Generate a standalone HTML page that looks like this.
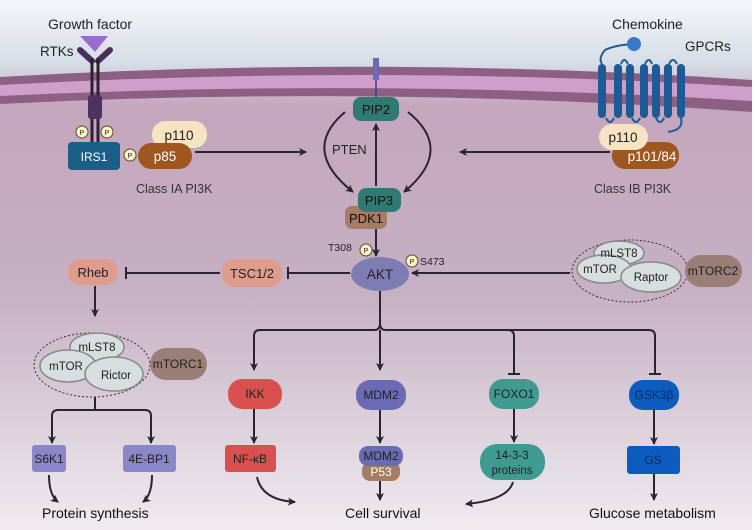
<!DOCTYPE html>
<html><head><meta charset="utf-8"><style>
html,body{margin:0;padding:0;background:#fff}
svg{display:block}
text{font-family:"Liberation Sans",sans-serif}
</style></head><body>
<svg width="755" height="530" viewBox="0 0 755 530" xmlns="http://www.w3.org/2000/svg">
<defs>
<linearGradient id="bg" x1="0" y1="0" x2="0" y2="1">
<stop offset="0" stop-color="#f4f6f9"/><stop offset="0.12" stop-color="#d5dde6"/>
<stop offset="0.2" stop-color="#c4a6bd"/><stop offset="0.55" stop-color="#c6b0c3"/>
<stop offset="1" stop-color="#efebef"/></linearGradient>
<marker id="ar" markerWidth="8" markerHeight="8" refX="7" refY="4" orient="auto" markerUnits="userSpaceOnUse"><path d="M0,0 L8,4 L0,8 L2,4z" fill="#2a2430"/></marker>
</defs>
<rect x="0" y="0" width="752" height="530" fill="url(#bg)"/>
<!-- membrane -->
<path d="M0,77 Q380,55 752,80 L752,112 Q380,85 0,104 Z" fill="#8e5f84"/>
<path d="M0,85 Q380,64 752,87 L752,101 Q380,78 0,96 Z" fill="#cf9fc9"/>
<g fill="none" stroke="#2a2430" stroke-width="2">
<!-- PI3K arrows -->
<line x1="195" y1="152" x2="306" y2="152" marker-end="url(#ar)"/>
<line x1="610" y1="152" x2="460" y2="152" marker-end="url(#ar)"/>
<line x1="376" y1="186" x2="376" y2="124" marker-end="url(#ar)"/>
<path d="M345,112 Q300,150 353,192" marker-end="url(#ar)"/>
<path d="M408,112 Q455,150 404,192" marker-end="url(#ar)"/>
<line x1="376" y1="229" x2="376" y2="256" marker-end="url(#ar)"/>
<line x1="570" y1="273" x2="412" y2="273" marker-end="url(#ar)"/>
<line x1="350" y1="273" x2="288" y2="273"/><line x1="288" y1="267" x2="288" y2="279"/>
<line x1="220" y1="273" x2="126" y2="273"/><line x1="126" y1="267" x2="126" y2="279"/>
<line x1="95" y1="286" x2="95" y2="316" marker-end="url(#ar)"/>
<path d="M95,397 V410 M52,443 V416 Q52,410 58,410 H145 Q151,410 151,416 V443" />
<line x1="52" y1="430" x2="52" y2="443" marker-end="url(#ar)"/>
<line x1="151" y1="430" x2="151" y2="443" marker-end="url(#ar)"/>
<path d="M49,475 Q49,495 58,502" marker-end="url(#ar)"/>
<path d="M152,475 Q152,495 143,502" marker-end="url(#ar)"/>
<!-- AKT tree -->
<path d="M380,291 V324 Q380,330 374,330 H260 Q254,330 254,336 V370" marker-end="url(#ar)"/>
<path d="M380,324 Q380,330 386,330 H649 Q655,330 655,336 V374"/>
<line x1="649" y1="374" x2="661" y2="374"/>
<line x1="380" y1="330" x2="380" y2="370" marker-end="url(#ar)"/>
<path d="M508,330 Q514,330 514,336 V374"/><line x1="508" y1="374" x2="520" y2="374"/>
<line x1="254" y1="409" x2="254" y2="443" marker-end="url(#ar)"/>
<line x1="380" y1="410" x2="380" y2="443" marker-end="url(#ar)"/>
<line x1="514" y1="409" x2="514" y2="442" marker-end="url(#ar)"/>
<line x1="654" y1="410" x2="654" y2="444" marker-end="url(#ar)"/>
<line x1="380" y1="481" x2="380" y2="500" marker-end="url(#ar)"/>
<line x1="654" y1="474" x2="654" y2="500" marker-end="url(#ar)"/>
<path d="M257,477 Q262,500 295,502" marker-end="url(#ar)"/>
<path d="M513,482 Q508,500 466,504" marker-end="url(#ar)"/>
</g>
<!-- RTK -->
<text x="48" y="29" font-size="14" fill="#222">Growth factor</text>
<text x="40" y="56" font-size="13.5" fill="#222">RTKs</text>
<path d="M80,36 L108,36 L95,52Z" fill="#9a6bd0"/>
<path d="M80,50 L92,61 M110,50 L98,61" stroke="#4a2f5c" stroke-width="6" stroke-linecap="round"/>
<line x1="92" y1="58" x2="92" y2="142" stroke="#2d1f35" stroke-width="3"/>
<line x1="98" y1="58" x2="98" y2="142" stroke="#2d1f35" stroke-width="3"/>
<rect x="88" y="95" width="14" height="24" rx="3" fill="#4e3360"/>
<rect x="68" y="142" width="52" height="28" rx="4" fill="#1b5e87"/>
<text x="94" y="161" font-size="12" fill="#fff" text-anchor="middle">IRS1</text>
<rect x="152" y="121" width="55" height="27" rx="13" fill="#f5e3c2"/>
<text x="179" y="140" font-size="13.5" fill="#222" text-anchor="middle">p110</text>
<rect x="138" y="143" width="54" height="26" rx="13" fill="#a0561f"/>
<text x="165" y="161" font-size="13.5" fill="#fff" text-anchor="middle">p85</text>
<text x="136" y="193" font-size="12.5" fill="#333">Class IA PI3K</text>
<!-- PIP -->
<line x1="376" y1="58" x2="376" y2="98" stroke="#3a3a90" stroke-width="1.5"/>
<rect x="373" y="58" width="6" height="22" fill="#6a6ab8"/>
<rect x="353" y="97" width="46" height="24" rx="8" fill="#2f7a72"/>
<text x="376" y="114" font-size="13" fill="#111" text-anchor="middle">PIP2</text>
<text x="332" y="154" font-size="13" fill="#222">PTEN</text>
<rect x="345" y="206" width="42" height="23" rx="7" fill="#a67c62"/>
<text x="366" y="223" font-size="13" fill="#111" text-anchor="middle">PDK1</text>
<rect x="358" y="188" width="43" height="24" rx="8" fill="#2f7a72"/>
<text x="379" y="205" font-size="13" fill="#111" text-anchor="middle">PIP3</text>
<text x="328" y="251" font-size="10.5" fill="#222">T308</text>
<text x="420" y="265" font-size="10.5" fill="#222">S473</text>
<ellipse cx="380" cy="274" rx="29" ry="17" fill="#7e7db3"/>
<text x="380" y="279" font-size="13.5" fill="#222" text-anchor="middle">AKT</text>
<!-- P circles -->
<g fill="#fbf3c8" stroke="#5a4a30" stroke-width="1">
<circle cx="82" cy="132" r="6"/><circle cx="107" cy="132" r="6"/><circle cx="130" cy="155" r="6"/>
<circle cx="366" cy="250" r="6"/><circle cx="412" cy="261" r="6"/></g>
<g font-size="7" fill="#222" text-anchor="middle">
<text x="82" y="135">P</text><text x="107" y="135">P</text><text x="130" y="158">P</text>
<text x="366" y="253">P</text><text x="412" y="264">P</text></g>
<!-- GPCR -->
<text x="612" y="29" font-size="14" fill="#222">Chemokine</text>
<text x="685" y="51" font-size="13.5" fill="#222">GPCRs</text>
<path d="M634,44 Q615,45 605,50 Q598,58 602,64 M606,118 Q610,126 614,118 M621,64 Q624,56 628,64 M632,118 Q636,126 640,118 M645,64 Q649,56 652,64 M656,118 Q660,126 664,118 M669,64 Q673,56 677,64 M681,118 Q684,130 668,132" fill="none" stroke="#1e5a95" stroke-width="2"/>
<g fill="#1e5a95">
<rect x="598" y="64" width="8" height="54" rx="4"/><rect x="614" y="64" width="8" height="54" rx="4"/>
<rect x="626" y="64" width="8" height="54" rx="4"/><rect x="640" y="64" width="8" height="54" rx="4"/>
<rect x="652" y="64" width="8" height="54" rx="4"/><rect x="664" y="64" width="8" height="54" rx="4"/>
<rect x="677" y="64" width="8" height="54" rx="4"/></g>
<circle cx="634" cy="44" r="7" fill="#3a78c8"/>
<rect x="612" y="142" width="67" height="27" rx="13" fill="#a0561f"/>
<text x="652" y="161" font-size="13.5" fill="#fff" text-anchor="middle">p101/84</text>
<rect x="599" y="124" width="49" height="26" rx="13" fill="#f5e3c2"/>
<text x="623" y="142" font-size="13.5" fill="#222" text-anchor="middle">p110</text>
<text x="594" y="193" font-size="12.5" fill="#333">Class IB PI3K</text>
<!-- mTORC2 -->
<ellipse cx="630" cy="271" rx="58" ry="31" fill="none" stroke="#333" stroke-width="1" stroke-dasharray="2,2"/>
<g fill="#d7dee0" stroke="#888" stroke-width="1.5">
<ellipse cx="619" cy="253" rx="25" ry="12"/><ellipse cx="604" cy="269" rx="27" ry="14"/><ellipse cx="651" cy="277" rx="30" ry="15"/></g>
<g font-size="11.5" fill="#222" text-anchor="middle">
<text x="619" y="257">mLST8</text><text x="600" y="273">mTOR</text><text x="651" y="281">Raptor</text></g>
<rect x="685" y="255" width="57" height="32" rx="16" fill="#9a7f77"/>
<text x="713" y="275" font-size="12" fill="#222" text-anchor="middle">mTORC2</text>
<!-- TSC, Rheb -->
<rect x="222" y="259" width="60" height="28" rx="13" fill="#df9c8c"/>
<text x="252" y="278" font-size="13" fill="#222" text-anchor="middle">TSC1/2</text>
<rect x="68" y="259" width="50" height="26" rx="12" fill="#df9c8c"/>
<text x="93" y="277" font-size="13" fill="#222" text-anchor="middle">Rheb</text>
<!-- mTORC1 -->
<ellipse cx="92" cy="365" rx="58" ry="32" fill="none" stroke="#333" stroke-width="1" stroke-dasharray="2,2"/>
<g fill="#d7dee0" stroke="#888" stroke-width="1.5">
<ellipse cx="97" cy="347" rx="27" ry="14"/><ellipse cx="68" cy="366" rx="28" ry="16"/><ellipse cx="114" cy="374" rx="29" ry="17"/></g>
<g font-size="11.5" fill="#222" text-anchor="middle">
<text x="97" y="351">mLST8</text><text x="66" y="370">mTOR</text><text x="116" y="379">Rictor</text></g>
<rect x="150" y="348" width="57" height="32" rx="16" fill="#9a7f77"/>
<text x="178" y="368" font-size="12" fill="#222" text-anchor="middle">mTORC1</text>
<rect x="32" y="445" width="34" height="27" rx="3" fill="#8a87c8"/>
<text x="49" y="463" font-size="12" fill="#222" text-anchor="middle">S6K1</text>
<rect x="123" y="445" width="53" height="27" rx="3" fill="#8a87c8"/>
<text x="149" y="463" font-size="12" fill="#222" text-anchor="middle">4E-BP1</text>
<text x="42" y="518" font-size="14" fill="#111">Protein synthesis</text>
<!-- IKK -->
<rect x="228" y="379" width="54" height="30" rx="14" fill="#d9504f"/>
<text x="255" y="398" font-size="12" fill="#222" text-anchor="middle">IKK</text>
<rect x="225" y="445" width="51" height="27" rx="3" fill="#d9504f"/>
<text x="250" y="463" font-size="12" fill="#222" text-anchor="middle">NF-κB</text>
<!-- MDM2 -->
<rect x="356" y="380" width="50" height="30" rx="14" fill="#6b6bb5"/>
<text x="381" y="399" font-size="12" fill="#222" text-anchor="middle">MDM2</text>
<rect x="362" y="462" width="38" height="19" rx="8" fill="#a67c62"/>
<text x="381" y="476" font-size="12" fill="#fff" text-anchor="middle">P53</text>
<rect x="359" y="446" width="44" height="20" rx="9" fill="#6b6bb5"/>
<text x="381" y="460" font-size="12" fill="#222" text-anchor="middle">MDM2</text>
<text x="345" y="518" font-size="14" fill="#111">Cell survival</text>
<!-- FOXO1 -->
<rect x="489" y="379" width="50" height="30" rx="14" fill="#3f9a92"/>
<text x="514" y="398" font-size="12" fill="#222" text-anchor="middle">FOXO1</text>
<rect x="480" y="444" width="65" height="36" rx="17" fill="#3f9a92"/>
<text x="512" y="459" font-size="11.5" fill="#222" text-anchor="middle">14-3-3</text>
<text x="512" y="474" font-size="11.5" fill="#222" text-anchor="middle">proteins</text>
<!-- GSK -->
<rect x="629" y="380" width="50" height="30" rx="14" fill="#0c5bbf"/>
<text x="654" y="399" font-size="12" fill="#0a2a55" text-anchor="middle">GSK3β</text>
<rect x="627" y="446" width="53" height="28" rx="3" fill="#0c5bbf"/>
<text x="653" y="464" font-size="12" fill="#0a2a55" text-anchor="middle">GS</text>
<text x="589" y="518" font-size="14" fill="#111">Glucose metabolism</text>
</svg>
</body></html>
